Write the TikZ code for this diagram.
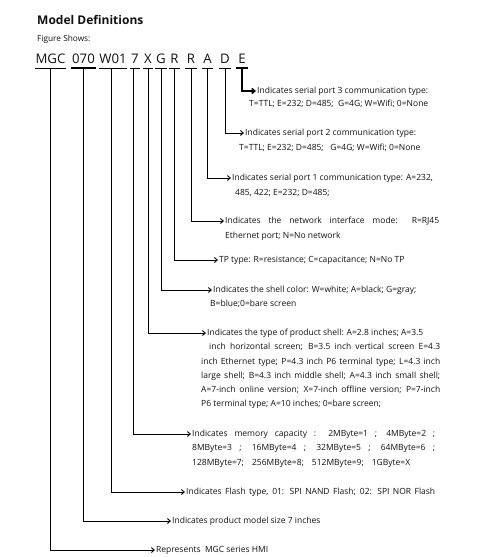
\documentclass[tikz,border=0pt]{standalone}
\usepackage{fontspec}
\setmainfont{Open Sans}
\usetikzlibrary{arrows.meta, positioning}
\definecolor{ink}{HTML}{111111}

\begin{document}
\begin{tikzpicture}[
  x=1pt, y=-1pt,
  >={Straight Barb[length=3pt, width=5pt]},
  code/.style={
    font=\fontsize{13.2}{14}\selectfont, text=ink, anchor=base,
    inner xsep=0pt, inner ysep=0pt, text depth=5pt, minimum width=#1
  },
  uline/.style={line width=0.9pt},
  conn/.style={->, line width=0.9pt, black},
  desc/.style={font=\fontsize{8.5}{10}\selectfont, text=ink, anchor=west, inner xsep=1pt, inner ysep=1pt},
]

\useasboundingbox (0,0) rectangle (479,557);

% Title
\node[font=\fontsize{12}{14}\selectfont\bfseries, text=ink, anchor=base west, inner sep=0pt]
  (title) at (37,24) {Model Definitions};
\node[font=\fontsize{8.3}{9}\selectfont, text=ink, anchor=base west, inner sep=0pt]
  (shows) at (37,41) {Figure Shows:};

% Model code
\node[code=31pt] (cMGC) at (50.5,63) {MGC};
\node[code=25pt] (c070) at (83.5,63) {070};
\node[code=25pt] (cW01) at (113,63) {W01};
\node[code=10pt] (c7)   at (135,63) {7};
\node[code=10pt] (cX)   at (148,63) {X};
\node[code=11pt] (cG)   at (161,63) {G};
\node[code=11pt] (cR1)  at (174.5,63) {R};
\node[code=12pt] (cR2)  at (191,63) {R};
\node[code=11pt] (cA)   at (207.5,63) {A};
\node[code=12pt] (cD)   at (225,63) {D};
\node[code=12pt] (cE)   at (242,63) {E};

% Underlines
\foreach \n in {cMGC,cW01,c7,cX,cG,cR1,cR2,cA,cD}
  \draw[uline] (\n.south west) -- (\n.south east);
\draw[uline, line width=1.6pt] (c070.south west) -- (c070.south east);
\draw[uline, line width=1.6pt] (cE.south west) -- (cE.south east);

% Descriptions
\node[desc] (dE) at (256,91) {Indicates serial port 3 communication type:};
\node[desc] (dE2) at (248,104) {T=TTL; E=232; D=485;\ \ G=4G; W=Wifi; 0=None};

\node[desc] (dD) at (244,133) {Indicates serial port 2 communication type:};
\node[desc] (dD2) at (238,148) {T=TTL; E=232; D=485;\ \ \ G=4G; W=Wifi; 0=None};

\node[desc] (dA) at (231,178) {Indicates serial port 1 communication type: A=232,};
\node[desc] (dA2) at (234,193) {485, 422; E=232; D=485;};

\node[desc] (dR2) at (224,221) {\makebox[214pt][s]{Indicates the network interface mode: R=RJ45}};
\node[desc] (dR22) at (224,236) {Ethernet port; N=No network};

\node[desc] (dR1) at (218,260) {TP type: R=resistance; C=capacitance; N=No TP};

\node[desc] (dG) at (212,290) {Indicates the shell color: W=white; A=black; G=gray;};
\node[desc] (dG2) at (209,304) {B=blue;0=bare screen};

\node[desc] (dX) at (206,333) {Indicates the type of product shell: A=2.8 inches; A=3.5};
\node[desc] (dX2) at (208,347) {\makebox[231pt][s]{inch horizontal screen; B=3.5 inch vertical screen E=4.3}};
\node[desc] (dX3) at (200,362) {\makebox[239pt][s]{inch Ethernet type; P=4.3 inch P6 terminal type; L=4.3 inch}};
\node[desc] (dX4) at (200,376) {\makebox[239pt][s]{large shell; B=4.3 inch middle shell; A=4.3 inch small shell;}};
\node[desc] (dX5) at (200,390) {\makebox[239pt][s]{A=7-inch online version; X=7-inch offline version; P=7-inch}};
\node[desc] (dX6) at (200,404) {P6 terminal type; A=10 inches; 0=bare screen;};

\node[desc] (d7) at (191,434) {\makebox[243pt][s]{Indicates memory capacity : 2MByte=1 ; 4MByte=2 ;}};
\node[desc] (d72) at (191,448) {\makebox[243pt][s]{8MByte=3 ; 16MByte=4 ; 32MByte=5 ; 64MByte=6 ;}};
\node[desc] (d73) at (191,463) {\makebox[218pt][s]{128MByte=7; 256MByte=8; 512MByte=9; 1GByte=X}};

\node[desc] (dW01) at (185,492) {\makebox[249pt][s]{Indicates Flash type, 01: SPI NAND Flash; 02: SPI NOR Flash}};

\node[desc] (d070) at (171,521) {Indicates product model size 7 inches};

\node[desc] (dMGC) at (155,550) {Represents\ \ MGC series HMI};

% Connectors
\draw[conn, line width=1.6pt] (cE.south) |- (dE.west);
\draw[conn] (cD.south) |- (dD.west);
\draw[conn] (cA.south) |- (dA.west);
\draw[conn] (cR2.south) |- (dR2.west);
\draw[conn] (cR1.south) |- (dR1.west);
\draw[conn] (cG.south) |- (dG.west);
\draw[conn] (cX.south) |- (dX.west);
\draw[conn] ([xshift=-2pt]c7.south) |- (d7.west);
\draw[conn] ([xshift=-2pt]cW01.south) |- (dW01.west);
\draw[conn] (c070.south) |- (d070.west);
\draw[conn] (cMGC.south) |- (dMGC.west);

\end{tikzpicture}
\end{document}
